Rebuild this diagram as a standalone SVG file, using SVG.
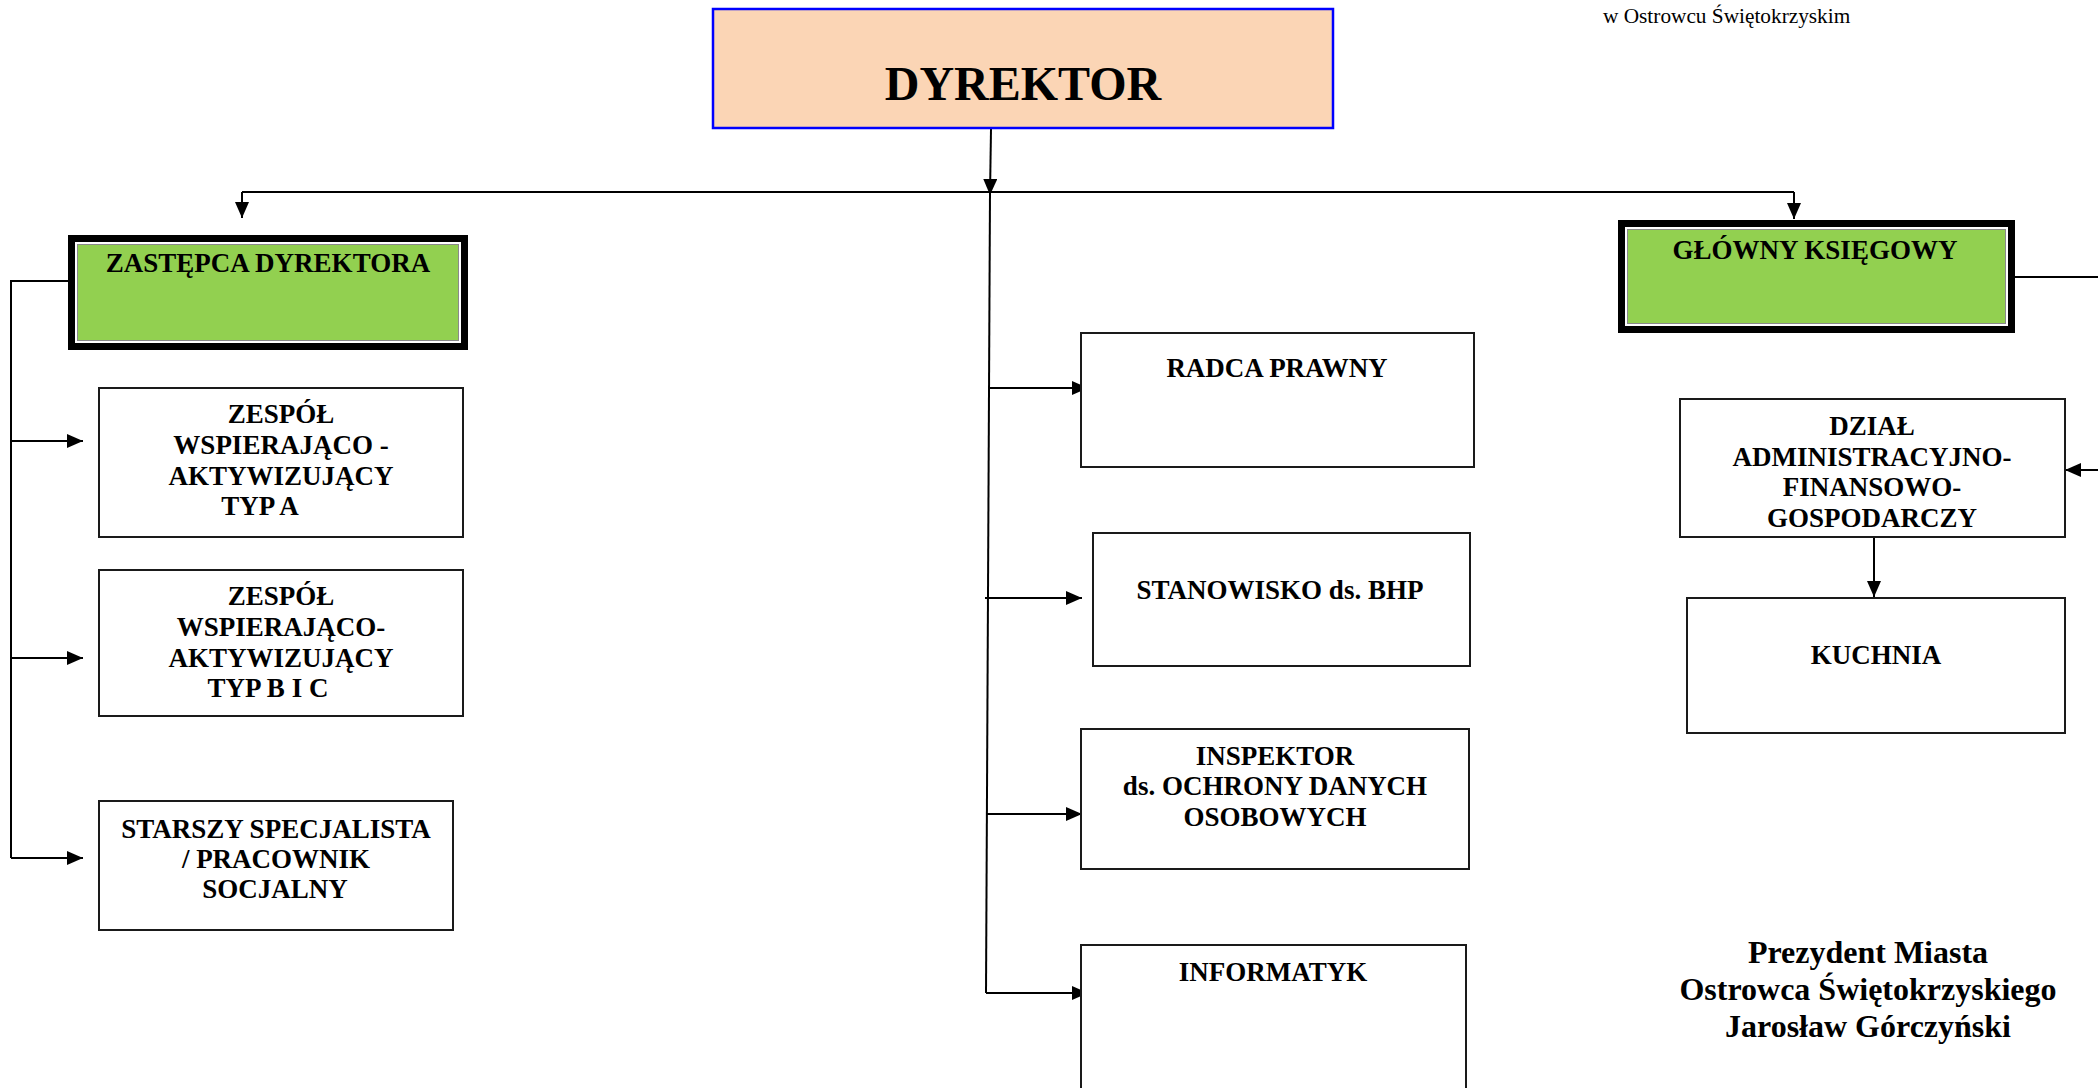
<svg xmlns="http://www.w3.org/2000/svg" width="2098" height="1088" viewBox="0 0 2098 1088">
<defs>
<marker id="ah" viewBox="0 0 16 14" refX="16" refY="7" markerWidth="16" markerHeight="14" markerUnits="userSpaceOnUse" orient="auto"><path d="M0,0 L16,7 L0,14 z" fill="#000"/></marker>
</defs>
<style>
text{font-family:"Liberation Serif","Times New Roman",serif;fill:#000}
.b{font-weight:bold;font-size:27px;text-anchor:middle}
.box{fill:#fff;stroke:#1a1a1a;stroke-width:2}
.con{fill:none;stroke:#000;stroke-width:2}
.arr{fill:none;stroke:#000;stroke-width:2;marker-end:url(#ah)}
.green{fill:#92D050;stroke:#8a8a8a;stroke-width:1}
</style>
<rect width="2098" height="1088" fill="#fff"/>
<text x="1603" y="23" font-size="21.3">w Ostrowcu Świętokrzyskim</text>

<g id="connectors">
<path class="arr" d="M991,129 L990,195"/>
<path class="con" d="M242,192 H1794"/>
<path class="arr" d="M242,192 V218"/>
<path class="arr" d="M1794,192 V219"/>
<path class="con" d="M990,192 L986,993"/>
<path class="arr" d="M989,388 H1088"/>
<path class="arr" d="M985,598 H1082"/>
<path class="arr" d="M987,814 H1082"/>
<path class="arr" d="M986,993 H1088"/>
<path class="con" d="M68,281 H11 V858"/>
<path class="arr" d="M11,441 H83"/>
<path class="arr" d="M11,658 H83"/>
<path class="arr" d="M11,858 H83"/>
<path class="arr" d="M2015,277 H2115 V470 H2065"/>
<path class="arr" d="M1874,537 V597"/>
</g>

<g id="dyrektor">
<rect x="713" y="9" width="620" height="119" fill="#FBD5B5" stroke="#0000FF" stroke-width="2.5"/>
<text x="1023" y="100" font-size="48" font-weight="bold" text-anchor="middle">DYREKTOR</text>
</g>

<g id="zastepca">
<rect x="68" y="235" width="400" height="115" fill="#000"/>
<rect x="75" y="242" width="386" height="101" fill="#fff"/>
<rect x="77.5" y="244.5" width="381" height="96" class="green"/>
<text class="b" x="268" y="272">ZASTĘPCA DYREKTORA</text>
</g>

<g id="zespol-a">
<rect class="box" x="99" y="388" width="364" height="149"/>
<text class="b" x="281" y="423">ZESPÓŁ</text>
<text class="b" x="281" y="454">WSPIERAJĄCO -</text>
<text class="b" x="281" y="485">AKTYWIZUJĄCY</text>
<text class="b" x="260" y="515">TYP A</text>
</g>

<g id="zespol-bc">
<rect class="box" x="99" y="570" width="364" height="146"/>
<text class="b" x="281" y="605">ZESPÓŁ</text>
<text class="b" x="281" y="636">WSPIERAJĄCO-</text>
<text class="b" x="281" y="667">AKTYWIZUJĄCY</text>
<text class="b" x="268" y="697">TYP B I C</text>
</g>

<g id="starszy">
<rect class="box" x="99" y="801" width="354" height="129"/>
<text class="b" x="276" y="838">STARSZY SPECJALISTA</text>
<text class="b" x="276" y="868">/ PRACOWNIK</text>
<text class="b" x="275" y="898">SOCJALNY</text>
</g>

<g id="radca">
<rect class="box" x="1081" y="333" width="393" height="134"/>
<text class="b" x="1277" y="377">RADCA PRAWNY</text>
</g>

<g id="bhp">
<rect class="box" x="1093" y="533" width="377" height="133"/>
<text class="b" x="1280" y="599">STANOWISKO ds. BHP</text>
</g>

<g id="inspektor">
<rect class="box" x="1081" y="729" width="388" height="140"/>
<text class="b" x="1275" y="765">INSPEKTOR</text>
<text class="b" x="1275" y="795">ds. OCHRONY DANYCH</text>
<text class="b" x="1275" y="826">OSOBOWYCH</text>
</g>

<g id="informatyk">
<rect class="box" x="1081" y="945" width="385" height="160"/>
<text class="b" x="1273" y="981">INFORMATYK</text>
</g>

<g id="glowny">
<rect x="1618" y="220" width="397" height="113" fill="#000"/>
<rect x="1625" y="227" width="383" height="99" fill="#fff"/>
<rect x="1627.5" y="229.5" width="378" height="94" class="green"/>
<text class="b" x="1815" y="259">GŁÓWNY KSIĘGOWY</text>
</g>

<g id="dzial">
<rect class="box" x="1680" y="399" width="385" height="138"/>
<text class="b" x="1872" y="435">DZIAŁ</text>
<text class="b" x="1872" y="466">ADMINISTRACYJNO-</text>
<text class="b" x="1872" y="496">FINANSOWO-</text>
<text class="b" x="1872" y="527">GOSPODARCZY</text>
</g>

<g id="kuchnia">
<rect class="box" x="1687" y="598" width="378" height="135"/>
<text class="b" x="1876" y="664">KUCHNIA</text>
</g>

<g id="podpis">
<text x="1868" y="963" font-size="32" font-weight="bold" text-anchor="middle">Prezydent Miasta</text>
<text x="1868" y="1000" font-size="32" font-weight="bold" text-anchor="middle">Ostrowca Świętokrzyskiego</text>
<text x="1868" y="1037" font-size="32" font-weight="bold" text-anchor="middle">Jarosław Górczyński</text>
</g>
</svg>
